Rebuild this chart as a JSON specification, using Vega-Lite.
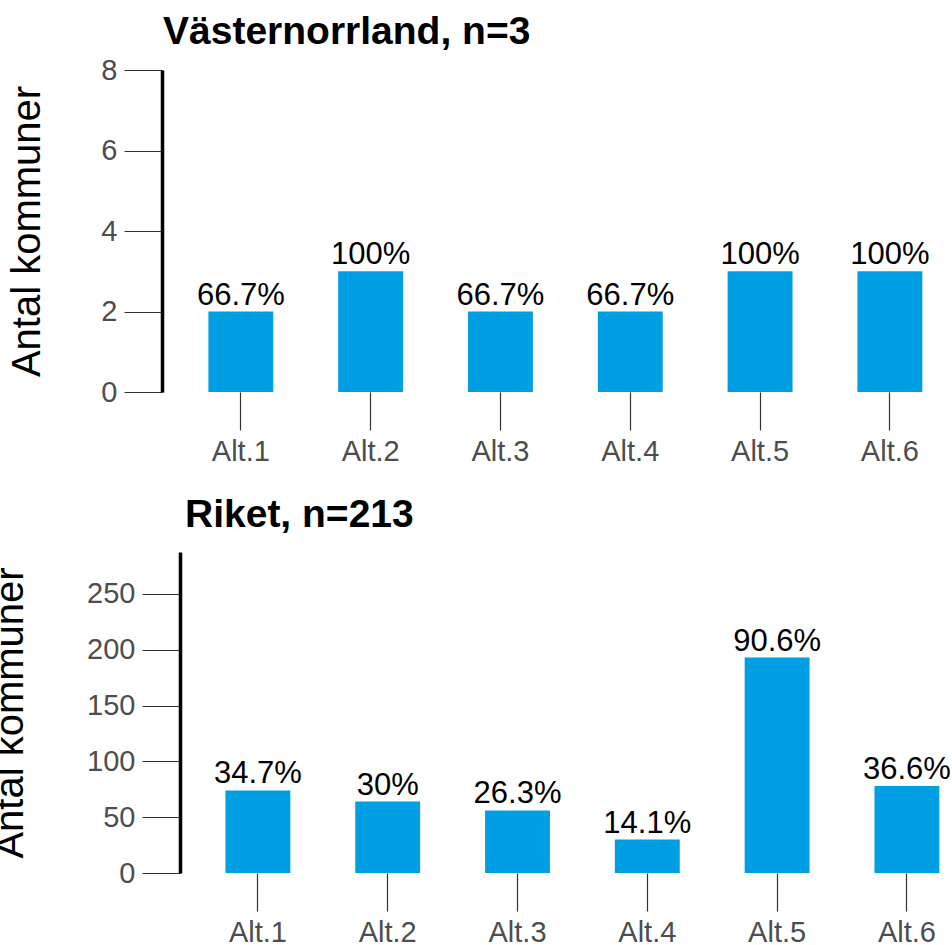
{
  "$schema": "https://vega.github.io/schema/vega-lite/v6.json",
  "padding": {"left": -10, "top": 13, "right": 0, "bottom": 0},
  "bounds": "flush",
  "spacing": 160,
  "config": {
    "view": {"stroke": null},
    "font": "Liberation Sans",
    "axis": {
      "grid": false,
      "tickSize": 38,
      "tickColor": "#333333",
      "tickWidth": 1.2,
      "labelColor": "#4D4D4D",
      "labelFontSize": 29,
      "labelPadding": 7,
      "titleFontSize": 40,
      "titleFontWeight": "normal",
      "titleColor": "black"
    },
    "axisX": {"domain": false, "labelAngle": 0, "title": null},
    "axisY": {"domain": true, "domainColor": "black", "domainWidth": 3.5}
  },
  "vconcat": [
    {
      "width": 790,
      "height": 322,
      "title": {"text": "Västernorrland, n=3", "anchor": "start", "frame": "group", "fontSize": 39, "fontWeight": "bold", "offset": 4, "color": "black", "dx": 1},
      "data": {"values": [
        {"alt": "Alt.1", "antal": 2, "andel": "66.7%"},
        {"alt": "Alt.2", "antal": 3, "andel": "100%"},
        {"alt": "Alt.3", "antal": 2, "andel": "66.7%"},
        {"alt": "Alt.4", "antal": 2, "andel": "66.7%"},
        {"alt": "Alt.5", "antal": 3, "andel": "100%"},
        {"alt": "Alt.6", "antal": 3, "andel": "100%"}
      ]},
      "encoding": {
        "x": {"field": "alt", "type": "nominal", "sort": null, "scale": {"paddingInner": 0.5, "paddingOuter": 0.293, "align": 0.61}},
        "y": {"field": "antal", "type": "quantitative", "scale": {"domain": [0, 8], "nice": false}, "axis": {"values": [0, 2, 4, 6, 8], "title": "Antal kommuner", "titlePadding": 53}}
      },
      "layer": [
        {"mark": {"type": "bar", "color": "#009FE3"}},
        {"mark": {"type": "text", "baseline": "bottom", "fontSize": 31, "color": "black"}, "encoding": {"text": {"field": "andel"}}}
      ]
    },
    {
      "width": 790,
      "height": 321,
      "title": {"text": "Riket, n=213", "anchor": "start", "frame": "group", "fontSize": 39, "fontWeight": "bold", "offset": 17, "color": "black", "dx": 23},
      "data": {"values": [
        {"alt": "Alt.1", "antal": 74, "andel": "34.7%"},
        {"alt": "Alt.2", "antal": 64, "andel": "30%"},
        {"alt": "Alt.3", "antal": 56, "andel": "26.3%"},
        {"alt": "Alt.4", "antal": 30, "andel": "14.1%"},
        {"alt": "Alt.5", "antal": 193, "andel": "90.6%"},
        {"alt": "Alt.6", "antal": 78, "andel": "36.6%"}
      ]},
      "encoding": {
        "x": {"field": "alt", "type": "nominal", "sort": null, "scale": {"paddingInner": 0.5, "paddingOuter": 0.293, "align": 0.834}},
        "y": {"field": "antal", "type": "quantitative", "scale": {"domain": [0, 287.55], "nice": false}, "axis": {"values": [0, 50, 100, 150, 200, 250], "title": "Antal kommuner", "titlePadding": 56, "offset": -18}}
      },
      "layer": [
        {"mark": {"type": "bar", "color": "#009FE3"}},
        {"mark": {"type": "text", "baseline": "bottom", "fontSize": 31, "color": "black"}, "encoding": {"text": {"field": "andel"}}}
      ]
    }
  ]
}
